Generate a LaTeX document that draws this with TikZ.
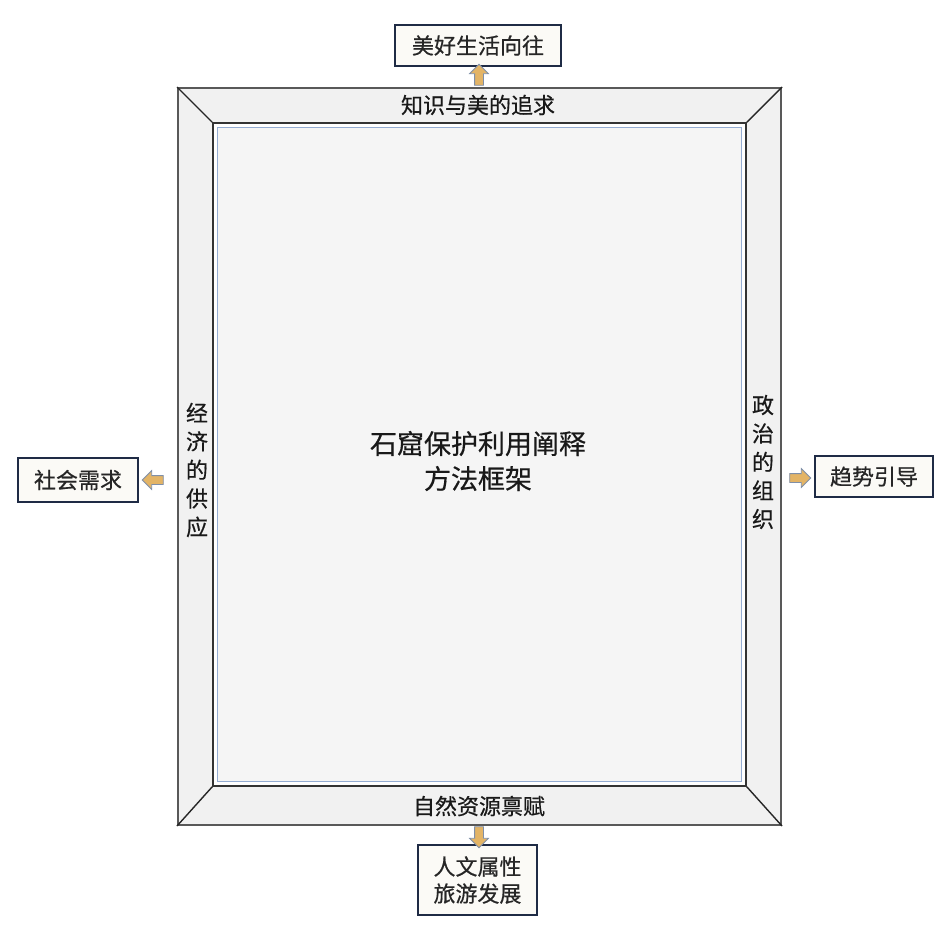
\documentclass[tikz,border=0pt]{standalone}
\usepackage{fontspec}
\setmainfont[FakeBold=0.5]{Noto Sans CJK SC}
\usetikzlibrary{positioning,shapes.arrows,calc}

\definecolor{boxline}{HTML}{1F2B45}
\definecolor{boxfill}{HTML}{FBFAF6}
\definecolor{bandfill}{HTML}{F1F1F1}
\definecolor{corefill}{HTML}{F5F5F5}
\definecolor{coreline}{HTML}{94ACD2}
\definecolor{arrowline}{HTML}{7F8FA8}
\definecolor{arrowfill}{HTML}{E3B466}

\tikzset{
  goalbox/.style={draw=boxline, line width=2.2pt, fill=boxfill, inner sep=0pt,
    font=\fontsize{22}{27}\selectfont, text=black!85, align=center},
  bandlabel/.style={inner sep=0pt, font=\fontsize{22}{28.5}\selectfont,
    text=black!90, align=center},
  blockarrow/.style={single arrow, draw=arrowline, line width=0.8pt,
    fill=arrowfill, inner sep=4pt, minimum height=21pt,
    single arrow head extend=5pt}
}

\begin{document}
\begin{tikzpicture}[x=1pt,y=-1pt]
  \useasboundingbox (0,0) rectangle (949,945);

  % frame and core
  \node[draw=black!65, line width=2pt, fill=bandfill,
        minimum width=603pt, minimum height=737pt] (frame) at (479.5,456.5) {};
  \node[draw=black!80, line width=1.5pt, fill=white,
        minimum width=533pt, minimum height=663pt] (core) at (479.5,454.5) {};
  \node[draw=coreline, line width=1.2pt, fill=corefill,
        minimum width=524pt, minimum height=654pt] (coreinner) at (479.5,454.5) {};
  \draw[black!85, line width=1.4pt]
        (frame.north west) -- (core.north west)
        (frame.north east) -- (core.north east)
        (frame.south west) -- (core.south west)
        (frame.south east) -- (core.south east);

  \node[font=\fontsize{27}{35}\selectfont, align=center, text=black!90]
        (method) at (478,461) {石窟保护利用阐释\\方法框架};

  % band labels
  \node[bandlabel] (knowledge) at (478,105) {知识与美的追求};
  \node[bandlabel] (nature)    at (479,806) {自然资源禀赋};
  \node[bandlabel] (economy)   at (197,470) {经\\济\\的\\供\\应};
  \node[bandlabel] (politics)  at (763,462) {政\\治\\的\\组\\织};

  % goal boxes
  \node[goalbox, minimum width=166pt, minimum height=41pt] (life)    at (478,45.5) {美好生活向往};
  \node[goalbox, minimum width=120pt, minimum height=44pt] (society) at (78,480)   {社会需求};
  \node[goalbox, minimum width=118pt, minimum height=41pt] (trend)   at (874,476.5) {趋势引导};
  \node[goalbox, minimum width=119pt, minimum height=70pt] (culture) at (477.5,880)
        {人文属性\\旅游发展};

  % arrows
  \node[blockarrow, shape border rotate=90]  (uparrow)    at (479,77)  {};
  \node[blockarrow, shape border rotate=180] (leftarrow)  at (155,480) {};
  \node[blockarrow]                          (rightarrow) at (798,478) {};
  \node[blockarrow, shape border rotate=270] (downarrow)  at (479,835) {};
\end{tikzpicture}
\end{document}
